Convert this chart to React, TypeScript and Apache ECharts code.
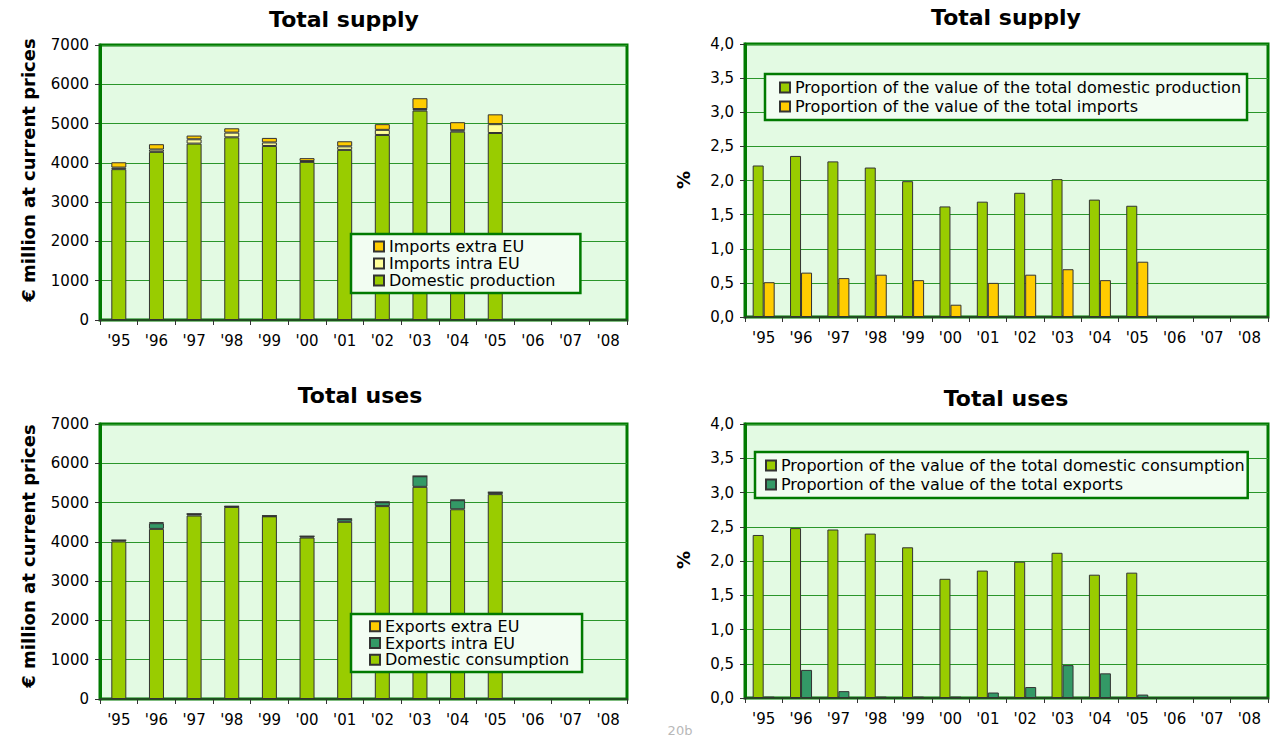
import React, { useEffect, useRef } from "react";
import * as echarts from "echarts";

// Years on the category axis
const years = ["'95", "'96", "'97", "'98", "'99", "'00", "'01", "'02", "'03", "'04", "'05", "'06", "'07", "'08"];

// Total supply, € million at current prices
const supplyDomesticProduction = [3840, 4280, 4490, 4650, 4430, 4025, 4330, 4710, 5330, 4795, 4760];
const supplyImportsIntraEU = [40, 60, 110, 120, 90, 20, 90, 130, 40, 35, 225];
const supplyImportsExtraEU = [135, 135, 95, 110, 115, 75, 130, 145, 275, 205, 250];

// Total supply, shares in %
const shareDomesticProduction = [2.22, 2.36, 2.28, 2.19, 1.99, 1.62, 1.69, 1.82, 2.02, 1.72, 1.63];
const shareImports = [0.51, 0.65, 0.57, 0.62, 0.54, 0.18, 0.5, 0.62, 0.7, 0.54, 0.81];

// Total uses, € million at current prices
const usesDomesticConsumption = [4010, 4330, 4670, 4890, 4650, 4110, 4510, 4910, 5400, 4830, 5215];
const usesExportsIntraEU = [30, 145, 40, 10, 10, 30, 70, 100, 270, 230, 45];
const usesExportsExtraEU = [5, 25, 5, 10, 5, 5, 5, 10, 5, 10, 5];

// Total uses, shares in %
const shareDomesticConsumption = [2.38, 2.48, 2.46, 2.4, 2.2, 1.74, 1.86, 1.99, 2.12, 1.8, 1.83];
const shareExports = [0.02, 0.41, 0.1, 0.02, 0.02, 0.02, 0.08, 0.16, 0.48, 0.36, 0.05];

const FONT = "'DejaVu Sans', 'Liberation Sans', Arial, sans-serif";
const GREEN = "#99cc00";
const GOLD = "#ffcc00";
const PALE = "#ffff99";
const TEAL = "#339966";
const BAR_BORDER = "#333333";

const grids = [
  { left: 100, top: 45, width: 527, height: 275 },
  { left: 745, top: 44, width: 523, height: 273 },
  { left: 100, top: 424, width: 527, height: 275 },
  { left: 745, top: 424, width: 523, height: 274 },
];

function makeGrid(g: { left: number; top: number; width: number; height: number }) {
  return {
    ...g,
    show: true,
    backgroundColor: "#e3fae3",
    borderColor: "#007a00",
    borderWidth: 3,
    containLabel: false,
  };
}

function makeXAxis(gridIndex: number) {
  return {
    type: "category",
    gridIndex,
    data: years,
    boundaryGap: true,
    axisLine: { show: true, lineStyle: { color: "#1f4f1f", width: 2 } },
    axisTick: { show: true, length: 5, lineStyle: { color: "#333" } },
    axisLabel: { color: "#000", fontSize: 15, fontFamily: FONT, margin: 13, interval: 0 },
    splitLine: { show: false },
  };
}

function makeYAxis(gridIndex: number, max: number, interval: number, pct: boolean) {
  return {
    type: "value",
    gridIndex,
    min: 0,
    max,
    interval,
    axisLine: { show: true, lineStyle: { color: "#007a00", width: 3 } },
    axisTick: { show: true, length: 5, lineStyle: { color: "#333" } },
    axisLabel: {
      color: "#000",
      fontSize: 15,
      fontFamily: FONT,
      margin: 11,
      formatter: pct ? (v: number) => v.toFixed(1).replace(".", ",") : (v: number) => String(v),
    },
    splitLine: { show: true, lineStyle: { color: "#2a962a", width: 1.2 } },
  };
}

function bar(name: string, data: number[], color: string, axis: number, extra: object = {}) {
  return {
    type: "bar",
    name,
    data,
    xAxisIndex: axis,
    yAxisIndex: axis,
    itemStyle: { color, borderColor: BAR_BORDER, borderWidth: 1 },
    ...extra,
  };
}

function makeLegend(
  data: string[],
  left: number,
  top: number,
  padding: number[],
  lineHeight: number,
  gridIndex: number
) {
  return {
    data,
    left,
    top,
    orient: "vertical",
    padding,
    itemGap: 0,
    itemWidth: 10,
    itemHeight: 10,
    icon: "rect",
    selectedMode: false,
    borderColor: "#007a00",
    borderWidth: 2.5,
    backgroundColor: "#f2fdf2",
    textStyle: { color: "#000", fontSize: 16, fontFamily: FONT, lineHeight },
    id: "legend" + gridIndex,
  };
}

function titleText(text: string, x: number, y: number) {
  return {
    type: "text",
    x,
    y,
    style: {
      text,
      align: "center",
      verticalAlign: "middle",
      font: `bold 22px ${FONT}`,
      fill: "#000",
    },
  };
}

function axisName(text: string, x: number, y: number) {
  return {
    type: "text",
    x,
    y,
    rotation: Math.PI / 2,
    style: {
      text,
      align: "center",
      verticalAlign: "middle",
      font: `bold 18px ${FONT}`,
      fill: "#000",
    },
  };
}

export default function App() {
  const ref = useRef<HTMLDivElement>(null);

  useEffect(() => {
    document.body.style.margin = "0";
    if (!ref.current) return;
    const chart = echarts.init(ref.current, null, { renderer: "svg" });

    const stackedWidth = 15;
    const pairWidth = 11;

    chart.setOption({
      animation: false,
      backgroundColor: "#ffffff",
      grid: grids.map(makeGrid),
      xAxis: [0, 1, 2, 3].map(makeXAxis),
      yAxis: [
        makeYAxis(0, 7000, 1000, false),
        makeYAxis(1, 4, 0.5, true),
        makeYAxis(2, 7000, 1000, false),
        makeYAxis(3, 4, 0.5, true),
      ],
      legend: [
        makeLegend(["Imports extra EU", "Imports intra EU", "Domestic production"], 351, 234, [4, 25, 4, 22], 17, 0),
        makeLegend(
          ["Proportion of the value of the total domestic production", "Proportion of the value of the total imports"],
          765,
          74,
          [4, 6, 4, 14],
          19,
          1
        ),
        makeLegend(["Exports extra EU", "Exports intra EU", "Domestic consumption"], 351, 614, [4, 13, 4, 18], 16.7, 2),
        makeLegend(
          ["Proportion of the value of the total domestic consumption", "Proportion of the value of the total exports"],
          755,
          452,
          [4, 3, 4, 10],
          19,
          3
        ),
      ],
      series: [
        bar("Domestic production", supplyDomesticProduction, GREEN, 0, { stack: "supply", barWidth: stackedWidth }),
        bar("Imports intra EU", supplyImportsIntraEU, PALE, 0, { stack: "supply", barWidth: stackedWidth }),
        bar("Imports extra EU", supplyImportsExtraEU, GOLD, 0, { stack: "supply", barWidth: stackedWidth }),

        bar("Proportion of the value of the total domestic production", shareDomesticProduction, GREEN, 1, {
          barWidth: pairWidth,
          barGap: "0%",
        }),
        bar("Proportion of the value of the total imports", shareImports, GOLD, 1, {
          barWidth: pairWidth,
          barGap: "0%",
        }),

        bar("Domestic consumption", usesDomesticConsumption, GREEN, 2, { stack: "uses", barWidth: stackedWidth }),
        bar("Exports intra EU", usesExportsIntraEU, TEAL, 2, { stack: "uses", barWidth: stackedWidth }),
        bar("Exports extra EU", usesExportsExtraEU, GOLD, 2, { stack: "uses", barWidth: stackedWidth }),

        bar("Proportion of the value of the total domestic consumption", shareDomesticConsumption, GREEN, 3, {
          barWidth: pairWidth,
          barGap: "0%",
        }),
        bar("Proportion of the value of the total exports", shareExports, TEAL, 3, {
          barWidth: pairWidth,
          barGap: "0%",
        }),
      ],
      graphic: [
        titleText("Total supply", 344, 19),
        titleText("Total supply", 1006, 17),
        titleText("Total uses", 360, 395),
        titleText("Total uses", 1006, 398),
        axisName("€ million at current prices", 28, 170),
        axisName("€ million at current prices", 28, 556),
        axisName("%", 683, 180),
        axisName("%", 683, 560),
        {
          type: "text",
          x: 680,
          y: 730,
          style: {
            text: "20b",
            align: "center",
            verticalAlign: "middle",
            font: `13px ${FONT}`,
            fill: "#b8b8b8",
          },
        },
      ],
    });

    return () => chart.dispose();
  }, []);

  return <div ref={ref} style={{ width: 1272, height: 740 }} />;
}
